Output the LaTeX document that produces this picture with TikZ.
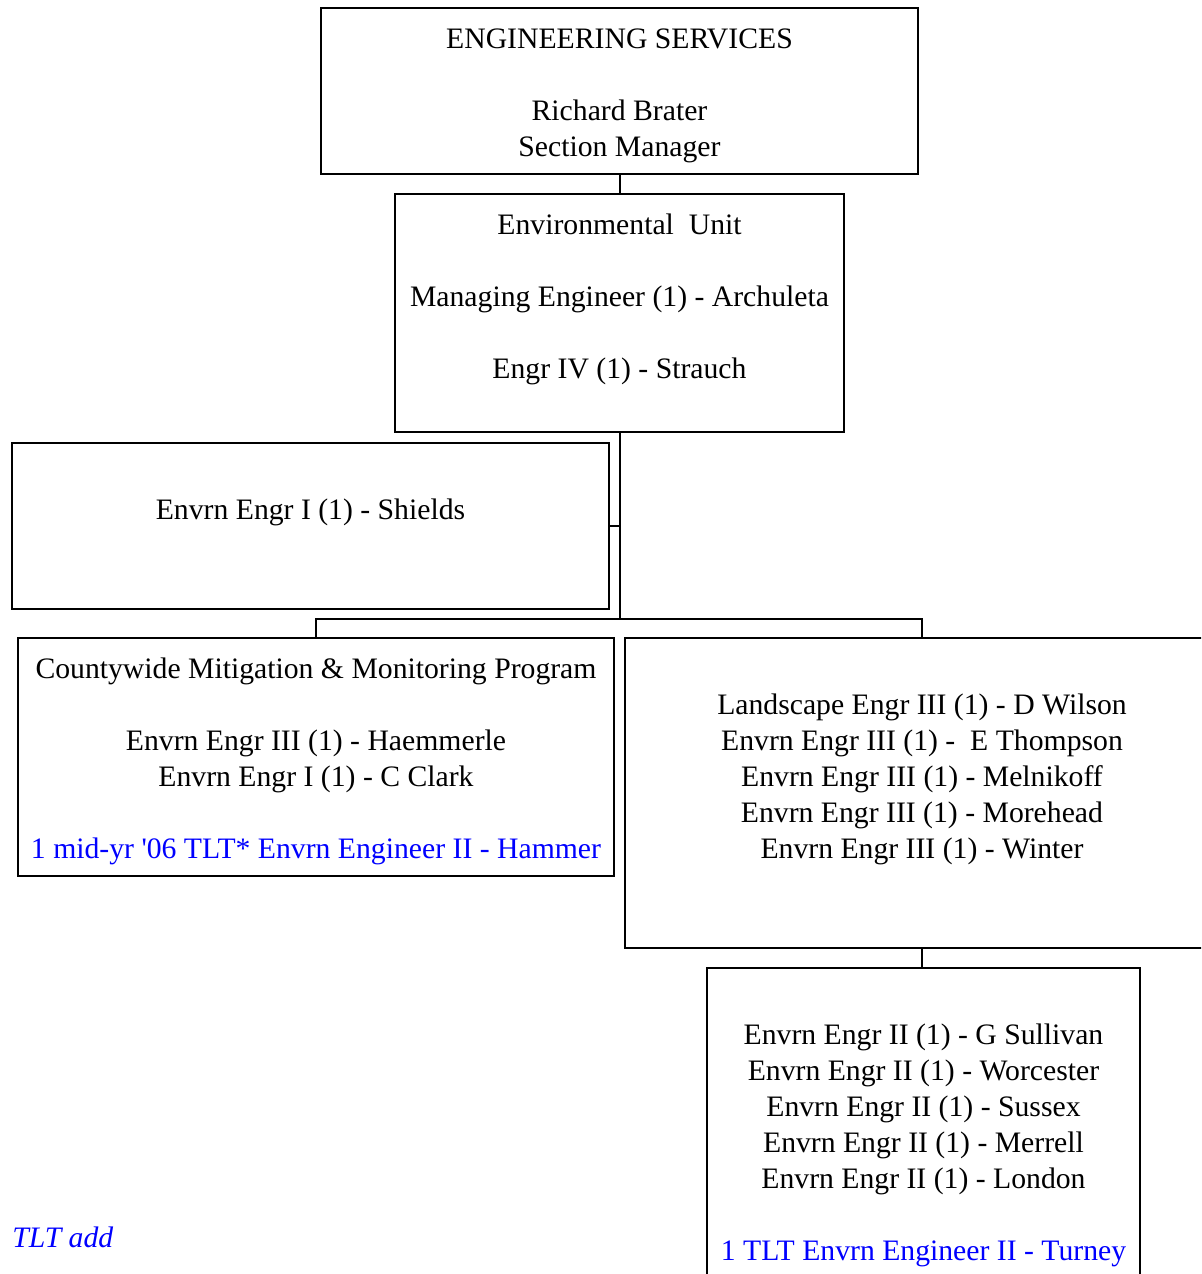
\documentclass[tikz,border=0pt]{standalone}
\usepackage{fontspec}
\setmainfont{Liberation Serif}
\usepackage{tikz}
\usetikzlibrary{positioning}

\newcommand{\topstrut}{\rule{0pt}{16.6pt}}
\newcommand{\botstrut}{\rule[-5.4pt]{0pt}{5.4pt}}

\begin{document}
\begin{tikzpicture}[%
    x=0.5pt, y=-0.5pt,
    unit/.style={%
        draw,
        rectangle,
        line width=1pt,
        align=center,
        inner sep=0pt,
        font=\fontsize{14.85}{18}\selectfont
    },
    tlt/.style={%
        text=blue
    },
    link/.style={%
        line width=1pt
    }
]
\clip (0,0) rectangle (1201,1274);

% Section
    \node[unit, minimum width=298.5pt, minimum height=83pt] (services) at (619.5,91)
        {\topstrut ENGINEERING SERVICES\\[18pt]Richard Brater\\Section Manager\botstrut};

% Unit
    \node[unit, minimum width=224.5pt, minimum height=119pt] (envunit) at (619.5,313)
        {\topstrut Environmental\ \ Unit\\[18pt]Managing Engineer (1) - Archuleta\\[18pt]Engr IV (1) - Strauch\\ \botstrut};

% Staff
    \node[unit, minimum width=298.5pt, minimum height=83pt] (shields) at (310.5,526)
        {\topstrut Envrn Engr I (1) - Shields\\ \botstrut};
    \node[unit, minimum width=298pt, minimum height=119pt] (program) at (316,757)
        {\topstrut Countywide Mitigation \& Monitoring Program\\[18pt]Envrn Engr III (1) - Haemmerle\\Envrn Engr I (1) - C Clark\\[18pt]\textcolor{blue}{1 mid-yr \textquotesingle 06 TLT* Envrn Engineer II - Hammer}\botstrut};
    \node[unit, minimum width=297pt, minimum height=155pt] (engr3) at (922,793)
        {\topstrut Landscape Engr III (1) - D Wilson\\Envrn Engr III (1) -\ \ E Thompson\\Envrn Engr III (1) - Melnikoff\\Envrn Engr III (1) - Morehead\\Envrn Engr III (1) - Winter\\ \botstrut};
    \node[unit, minimum width=216.5pt, minimum height=173pt] (engr2) at (923.5,1141)
        {\topstrut Envrn Engr II (1) - G Sullivan\\Envrn Engr II (1) - Worcester\\Envrn Engr II (1) - Sussex\\Envrn Engr II (1) - Merrell\\Envrn Engr II (1) - London\\[18pt]\textcolor{blue}{1 TLT Envrn Engineer II - Turney}\botstrut};

% Note
    \node[tlt, anchor=west, inner sep=0pt, font=\fontsize{14.85}{18}\selectfont\itshape] (tltadd) at (12,1237) {TLT add};

% Lines
    \coordinate (bus) at (619.5,619);
\draw[link] (services.south) -- (envunit.north);
\draw[link] (envunit.south) -- (bus);
\draw[link] (shields.east) -- (shields.east -| envunit.south);
\draw[link] (program.north) |- (bus) -| (engr3.north);
\draw[link] (engr3.south) -- (engr3.south |- engr2.north);

\end{tikzpicture}
\end{document}
